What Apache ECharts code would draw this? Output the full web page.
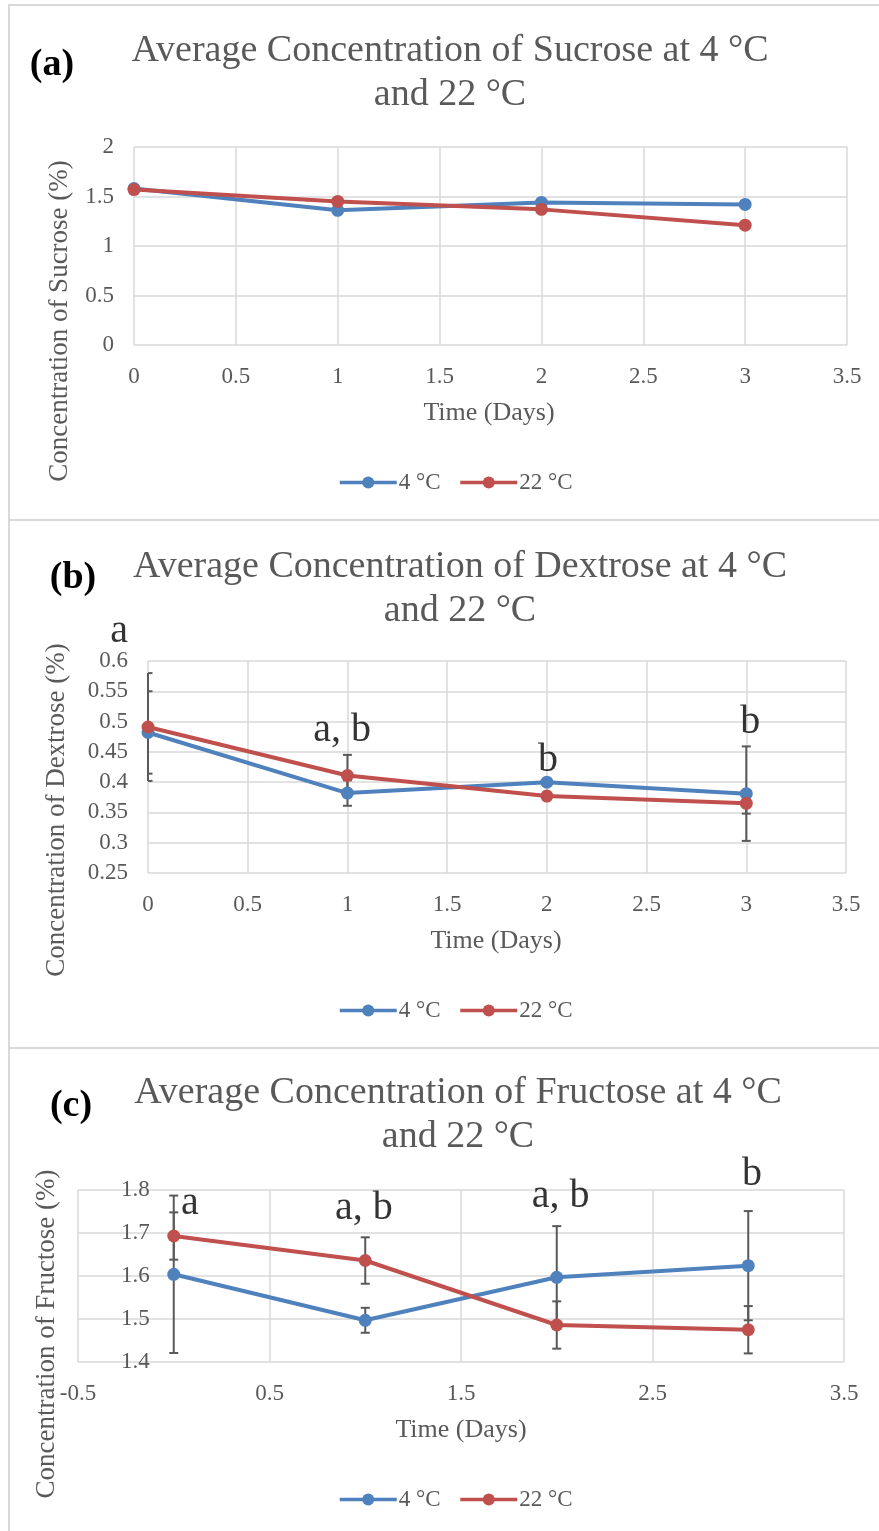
<!DOCTYPE html>
<html>
<head>
<meta charset="utf-8">
<script src="https://cdn.jsdelivr.net/npm/echarts@6/dist/echarts.min.js"></script>
<style>
  html, body { margin: 0; padding: 0; background: #fff; }
  #chart { width: 879px; height: 1531px; }
</style>
</head>
<body>
<div id="chart"></div>
<script>
// ── Data ──────────────────────────────────────────────────────────────
const days = [0, 1, 2, 3];
const seriesNames = ['4 °C', '22 °C'];

const sucrose4 = [1.58, 1.36, 1.44, 1.42];
const sucrose22 = [1.57, 1.45, 1.37, 1.21];

const dextrose4 = [0.482, 0.382, 0.400, 0.381];
const dextrose22 = [0.491, 0.411, 0.377, 0.365];
const dextrose4Err = [0.068, 0.021, 0, 0.078];
const dextrose22Err = [0.089, 0.034, 0, 0.017];

const fructose4 = [1.604, 1.497, 1.597, 1.624];
const fructose22 = [1.693, 1.636, 1.486, 1.475];
const fructose4Err = [0.183, 0.029, 0.119, 0.127];
const fructose22Err = [0.055, 0.054, 0.055, 0.055];

// significance letters, anchored in data space [day, value]
const dextroseNoteText = ['a', 'a, b', 'b', 'b'];
const dextroseNoteAt = [[-0.145, 0.648], [0.973, 0.486], [2.006, 0.436], [3.02, 0.498]];
const fructoseNoteText = ['a', 'a, b', 'a, b', 'b'];
const fructoseNoteAt = [[0.084, 1.769], [0.993, 1.757], [2.02, 1.786], [3.02, 1.837]];

const chartTitles = [
  'Average Concentration of Sucrose at 4 °C\nand 22 °C',
  'Average Concentration of Dextrose at 4 °C\nand 22 °C',
  'Average Concentration of Fructose at 4 °C\nand 22 °C',
];
const yNames = ['Concentration of Sucrose (%)', 'Concentration of Dextrose (%)', 'Concentration of Fructose (%)'];
const panelLetters = ['(a)', '(b)', '(c)'];

// ── Styles ────────────────────────────────────────────────────────────
const BLUE = '#4f81bd';
const RED = '#c0504d';
const GREY = '#595959';
const SERIF = '"Liberation Serif", "Times New Roman", serif';

// panel layout (pixels)
const grids = [
  { left: 134, top: 147, width: 713, height: 198 },
  { left: 148, top: 661, width: 698, height: 212 },
  { left: 78, top: 1190, width: 766, height: 172 },
];
const panelBoxes = [[9, 5, 515], [9, 520, 528], [9, 1048, 500]];
const titleAt = [[450, 73], [460, 589], [458, 1115]];
const letterAt = [[52, 65], [73, 578], [71, 1106]];
const xNameAt = [[489, 413], [496, 941], [461, 1430]];
const yNameAt = [[60, 321], [57, 810], [47, 1334]];
const legendTop = [471, 999, 1488];

// ── Builders ──────────────────────────────────────────────────────────
function valueAxis(gridIndex, min, max, interval, margin) {
  return {
    type: 'value', gridIndex, min, max, interval,
    axisLine: { show: false },
    axisTick: { show: false },
    splitLine: { show: true, lineStyle: { color: '#d9d9d9', width: 1.5 } },
    axisLabel: { fontFamily: SERIF, fontSize: 23, color: GREY, margin },
  };
}

function lineSeries(name, idx, values, color) {
  return {
    name, type: 'line', xAxisIndex: idx, yAxisIndex: idx, z: 3,
    data: days.map((d, i) => [d, values[i]]),
    symbol: 'circle', symbolSize: 13,
    lineStyle: { color, width: 4 },
    itemStyle: { color },
  };
}

function errorSeries(idx, values, errs) {
  return {
    type: 'custom', xAxisIndex: idx, yAxisIndex: idx, z: 1, silent: true,
    data: days.map((d, i) => [d, values[i] - errs[i], values[i] + errs[i], errs[i]]),
    renderItem(params, api) {
      if (!api.value(3)) return null;
      const lo = api.coord([api.value(0), api.value(1)]);
      const hi = api.coord([api.value(0), api.value(2)]);
      const cs = params.coordSys;
      const x = lo[0];
      const l = Math.max(x - 4.5, cs.x);
      const r = Math.min(x + 4.5, cs.x + cs.width);
      const style = { stroke: GREY, lineWidth: 2 };
      return {
        type: 'group',
        children: [
          { type: 'line', shape: { x1: x, y1: lo[1], x2: x, y2: hi[1] }, style },
          { type: 'line', shape: { x1: l, y1: lo[1], x2: r, y2: lo[1] }, style },
          { type: 'line', shape: { x1: l, y1: hi[1], x2: r, y2: hi[1] }, style },
        ],
      };
    },
  };
}

function noteSeries(idx, at, texts) {
  return {
    type: 'scatter', xAxisIndex: idx, yAxisIndex: idx, z: 5, silent: true, clip: false,
    symbolSize: 1, itemStyle: { color: 'transparent' },
    data: at.map((p, i) => ({ value: p, name: texts[i] })),
    label: { show: true, position: 'inside', formatter: '{b}', fontFamily: SERIF, fontSize: 40, color: '#000' },
  };
}

const graphic = [];
panelBoxes.forEach(([x, y, h]) => {
  graphic.push({ type: 'rect', silent: true, shape: { x, y, width: 880, height: h },
    style: { fill: 'none', stroke: '#d9d9d9', lineWidth: 2 } });
});
for (let i = 0; i < 3; i++) {
  graphic.push({ type: 'text', silent: true, x: titleAt[i][0], y: titleAt[i][1],
    style: { text: chartTitles[i], align: 'center', verticalAlign: 'middle', fontFamily: SERIF,
      fontSize: 38, lineHeight: 44, fill: GREY } });
  graphic.push({ type: 'text', silent: true, x: letterAt[i][0], y: letterAt[i][1],
    style: { text: panelLetters[i], align: 'center', verticalAlign: 'middle', fontFamily: SERIF,
      fontSize: 38, fontWeight: 'bold', fill: '#000' } });
  graphic.push({ type: 'text', silent: true, x: xNameAt[i][0], y: xNameAt[i][1],
    style: { text: 'Time (Days)', align: 'center', verticalAlign: 'middle', fontFamily: SERIF,
      fontSize: 26, fill: GREY } });
  graphic.push({ type: 'text', silent: true, x: yNameAt[i][0], y: yNameAt[i][1], rotation: Math.PI / 2,
    style: { text: yNames[i], align: 'center', verticalAlign: 'middle', fontFamily: SERIF,
      fontSize: 27, fill: GREY } });
}

// panel (c): value axis sits at day 0, half a unit in from the left edge
const fructoseYAxis = valueAxis(2, 1.4, 1.8, 0.1, 24);
fructoseYAxis.offset = -grids[2].width / 8;

const option = {
  backgroundColor: '#fff',
  animation: false,
  grid: grids,
  xAxis: [
    valueAxis(0, 0, 3.5, 0.5, 20),
    valueAxis(1, 0, 3.5, 0.5, 20),
    valueAxis(2, -0.5, 3.5, 1, 20),
  ],
  yAxis: [
    valueAxis(0, 0, 2, 0.5, 20),
    valueAxis(1, 0.25, 0.6, 0.05, 20),
    fructoseYAxis,
  ],
  legend: legendTop.map(top => ({
    data: seriesNames, left: 338, top, padding: 0,
    itemWidth: 57, itemHeight: 15, itemGap: 18,
    lineStyle: { width: 3.5 },
    textStyle: { fontFamily: SERIF, fontSize: 23, color: GREY, padding: [0, 0, 0, -3] },
  })),
  graphic,
  series: [
    lineSeries(seriesNames[0], 0, sucrose4, BLUE),
    lineSeries(seriesNames[1], 0, sucrose22, RED),

    errorSeries(1, dextrose4, dextrose4Err),
    errorSeries(1, dextrose22, dextrose22Err),
    lineSeries(seriesNames[0], 1, dextrose4, BLUE),
    lineSeries(seriesNames[1], 1, dextrose22, RED),
    noteSeries(1, dextroseNoteAt, dextroseNoteText),

    errorSeries(2, fructose4, fructose4Err),
    errorSeries(2, fructose22, fructose22Err),
    lineSeries(seriesNames[0], 2, fructose4, BLUE),
    lineSeries(seriesNames[1], 2, fructose22, RED),
    noteSeries(2, fructoseNoteAt, fructoseNoteText),
  ],
};

const chart = echarts.init(document.getElementById('chart'));
chart.setOption(option);
</script>
</body>
</html>
